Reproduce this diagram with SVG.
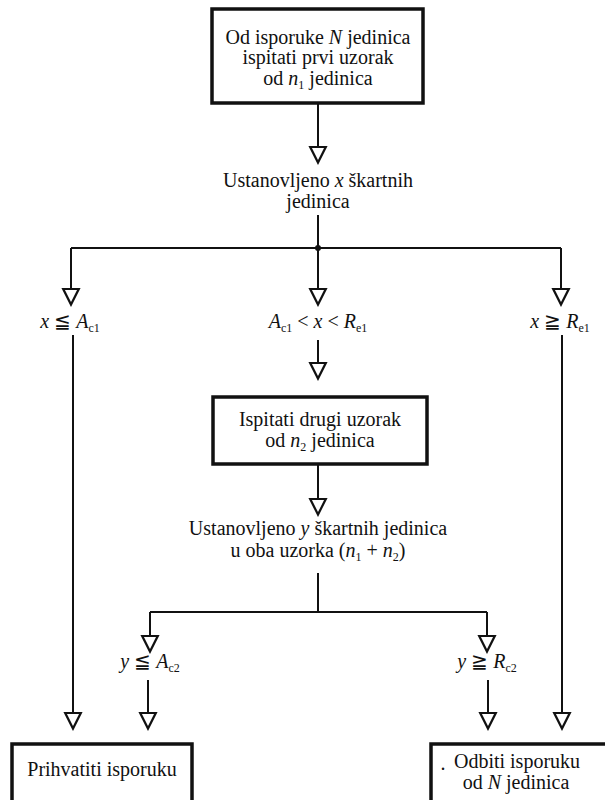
<svg xmlns="http://www.w3.org/2000/svg" width="605" height="800" viewBox="0 0 605 800">
<style>
  text { font-family: "Liberation Serif", "DejaVu Serif", serif; font-size: 20px; fill: #111; text-anchor: middle; }
  .i { font-style: italic; }
  .sub { font-size: 12px; }
  .box { fill: #fff; stroke: #111; stroke-width: 3.5; }
  .ln { fill: none; stroke: #111; stroke-width: 2; }
  .arr { marker-end: url(#tri); }
</style>
<defs>
  <marker id="tri" markerUnits="userSpaceOnUse" markerWidth="20" markerHeight="20" viewBox="-2 -2 18 18" refX="7" refY="0" orient="0">
    <path d="M0,0 L14,0 L7,14 Z" fill="#fff" stroke="#111" stroke-width="2" stroke-linejoin="miter"/>
  </marker>
</defs>
<rect width="605" height="800" fill="#fff"/>

<g id="connectors">
  <line class="ln arr" x1="318" y1="103" x2="318" y2="147"/>
  <polyline class="ln" points="318,215 318,248"/>
  <polyline class="ln" points="71,248 561,248"/>
  <circle cx="318" cy="248" r="3" fill="#111"/>
  <line class="ln arr" x1="71" y1="248" x2="71" y2="289"/>
  <line class="ln arr" x1="318" y1="248" x2="318" y2="289"/>
  <line class="ln arr" x1="561" y1="248" x2="561" y2="289"/>
  <line class="ln arr" x1="318" y1="340" x2="318" y2="363"/>
  <line class="ln arr" x1="318" y1="464" x2="318" y2="499"/>
  <polyline class="ln" points="318,573 318,612"/>
  <polyline class="ln" points="150,612 487,612"/>
  <line class="ln arr" x1="150" y1="612" x2="150" y2="636"/>
  <line class="ln arr" x1="487" y1="612" x2="487" y2="636"/>
  <line class="ln arr" x1="148" y1="680" x2="148" y2="713"/>
  <line class="ln arr" x1="488" y1="680" x2="488" y2="713"/>
  <line class="ln arr" x1="73" y1="335" x2="73" y2="713"/>
  <line class="ln arr" x1="562" y1="335" x2="562" y2="713"/>
</g>

<g id="start">
  <rect class="box" x="212" y="9" width="211" height="94"/>
  <text x="318" y="44">Od isporuke <tspan class="i">N</tspan> jedinica</text>
  <text x="318" y="64">ispitati prvi uzorak</text>
  <text x="318" y="85">od <tspan class="i">n</tspan><tspan class="sub" dy="4">1</tspan><tspan dy="-4"> jedinica</tspan></text>
</g>

<g id="found-x">
  <text x="318" y="187">Ustanovljeno <tspan class="i">x</tspan> škartnih</text>
  <text x="318" y="208">jedinica</text>
</g>

<g id="cond-x-accept">
  <text x="70" y="328"><tspan class="i">x</tspan> ≦ <tspan class="i">A</tspan><tspan class="sub" dy="4">c1</tspan></text>
</g>
<g id="cond-x-middle">
  <text x="318" y="328"><tspan class="i">A</tspan><tspan class="sub" dy="4">c1</tspan><tspan dy="-4"> &lt; </tspan><tspan class="i">x</tspan> &lt; <tspan class="i">R</tspan><tspan class="sub" dy="4">e1</tspan></text>
</g>
<g id="cond-x-reject">
  <text x="560" y="328"><tspan class="i">x</tspan> ≧ <tspan class="i">R</tspan><tspan class="sub" dy="4">e1</tspan></text>
</g>

<g id="second-sample">
  <rect class="box" x="213" y="397" width="214" height="67"/>
  <text x="320" y="426">Ispitati drugi uzorak</text>
  <text x="320" y="447">od <tspan class="i">n</tspan><tspan class="sub" dy="4">2</tspan><tspan dy="-4"> jedinica</tspan></text>
</g>

<g id="found-y">
  <text x="318" y="535">Ustanovljeno <tspan class="i">y</tspan> škartnih jedinica</text>
  <text x="318" y="557">u oba uzorka (<tspan class="i">n</tspan><tspan class="sub" dy="4">1</tspan><tspan dy="-4"> + </tspan><tspan class="i">n</tspan><tspan class="sub" dy="4">2</tspan><tspan dy="-4">)</tspan></text>
</g>

<g id="cond-y-accept">
  <text x="150" y="668"><tspan class="i">y</tspan> ≦ <tspan class="i">A</tspan><tspan class="sub" dy="4">c2</tspan></text>
</g>
<g id="cond-y-reject">
  <text x="487" y="668"><tspan class="i">y</tspan> ≧ <tspan class="i">R</tspan><tspan class="sub" dy="4">c2</tspan></text>
</g>

<g id="accept">
  <rect class="box" x="12" y="744" width="180" height="70"/>
  <text x="102" y="776">Prihvatiti isporuku</text>
</g>

<g id="reject">
  <rect class="box" x="431" y="744" width="185" height="70"/>
  <text x="443" y="770">.</text>
  <text x="517" y="768">Odbiti isporuku</text>
  <text x="516" y="789">od <tspan class="i">N</tspan> jedinica</text>
</g>
</svg>
